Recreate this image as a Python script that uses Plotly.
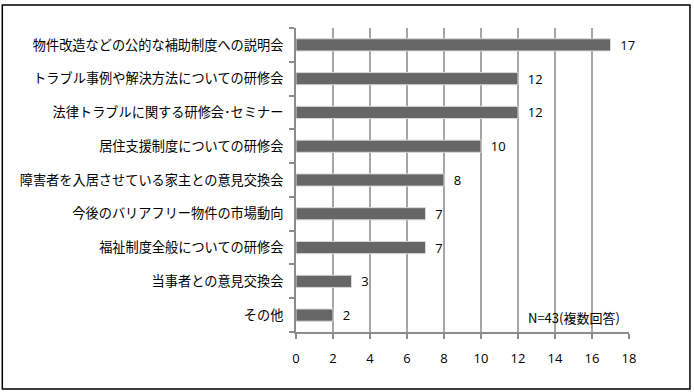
import plotly.graph_objects as go

categories = [
    "物件改造などの公的な補助制度への説明会",
    "トラブル事例や解決方法についての研修会",
    "法律トラブルに関する研修会･セミナー",
    "居住支援制度についての研修会",
    "障害者を入居させている家主との意見交換会",
    "今後のバリアフリー物件の市場動向",
    "福祉制度全般についての研修会",
    "当事者との意見交換会",
    "その他",
]
values = [17, 12, 12, 10, 8, 7, 7, 3, 2]
x_ticks = [0, 2, 4, 6, 8, 10, 12, 14, 16, 18]
note = "N=43(複数回答)"

font_jp = "Noto Sans CJK JP"

fig = go.Figure()
fig.add_trace(go.Bar(
    y=categories,
    x=values,
    orientation="h",
    marker=dict(color="#666666", line=dict(color="#d9d9d9", width=1)),
    text=["  " + str(v) for v in values],
    textposition="outside",
    constraintext="none",
    textfont=dict(size=13, color="#000000", family="Open Sans"),
    cliponaxis=False,
    width=0.36,
))

fig.update_layout(
    width=694,
    height=392,
    margin=dict(l=296, r=65, t=28, b=60),
    paper_bgcolor="white",
    plot_bgcolor="white",
    showlegend=False,
    font=dict(family=font_jp, color="#000000"),
    xaxis=dict(
        range=[0, 18],
        tickvals=x_ticks,
        ticktext=[str(t) for t in x_ticks],
        showgrid=True,
        gridcolor="#a6a6a6",
        gridwidth=1.5,
        zeroline=False,
        showline=True,
        linecolor="#8c8c8c",
        linewidth=2,
        ticks="outside",
        ticklen=5,
        tickcolor="#8c8c8c",
        tickwidth=2,
        tickfont=dict(size=13, family="Open Sans", color="#000000"),
        ticklabelstandoff=8,
    ),
    yaxis=dict(
        categoryorder="array",
        categoryarray=categories[::-1],
        autorange=False,
        range=[-0.5, 8.5],
        showline=True,
        linecolor="#8c8c8c",
        linewidth=2,
        ticks="outside",
        ticklen=5,
        tickcolor="#8c8c8c",
        tickwidth=2,
        tickson="boundaries",
        showgrid=False,
        tickfont=dict(size=13.2, family=font_jp, color="#000000"),
        ticklabelstandoff=8,
    ),
    shapes=[dict(
        type="rect", xref="paper", yref="paper",
        x0=-0.882, x1=1.183, y0=-0.1875, y1=1.0757,
        line=dict(color="#000000", width=1.5),
        fillcolor="rgba(0,0,0,0)",
    )],
    annotations=[dict(
        text=note, xref="paper", yref="paper",
        x=0.979, y=0.049, xanchor="right", yanchor="middle",
        showarrow=False,
        font=dict(size=13, family=font_jp, color="#000000"),
    )],
)

fig.write_html(
    "out.html",
    config={"displayModeBar": False},
    post_script="document.body.style.margin='0';document.body.style.overflow='hidden';",
)
